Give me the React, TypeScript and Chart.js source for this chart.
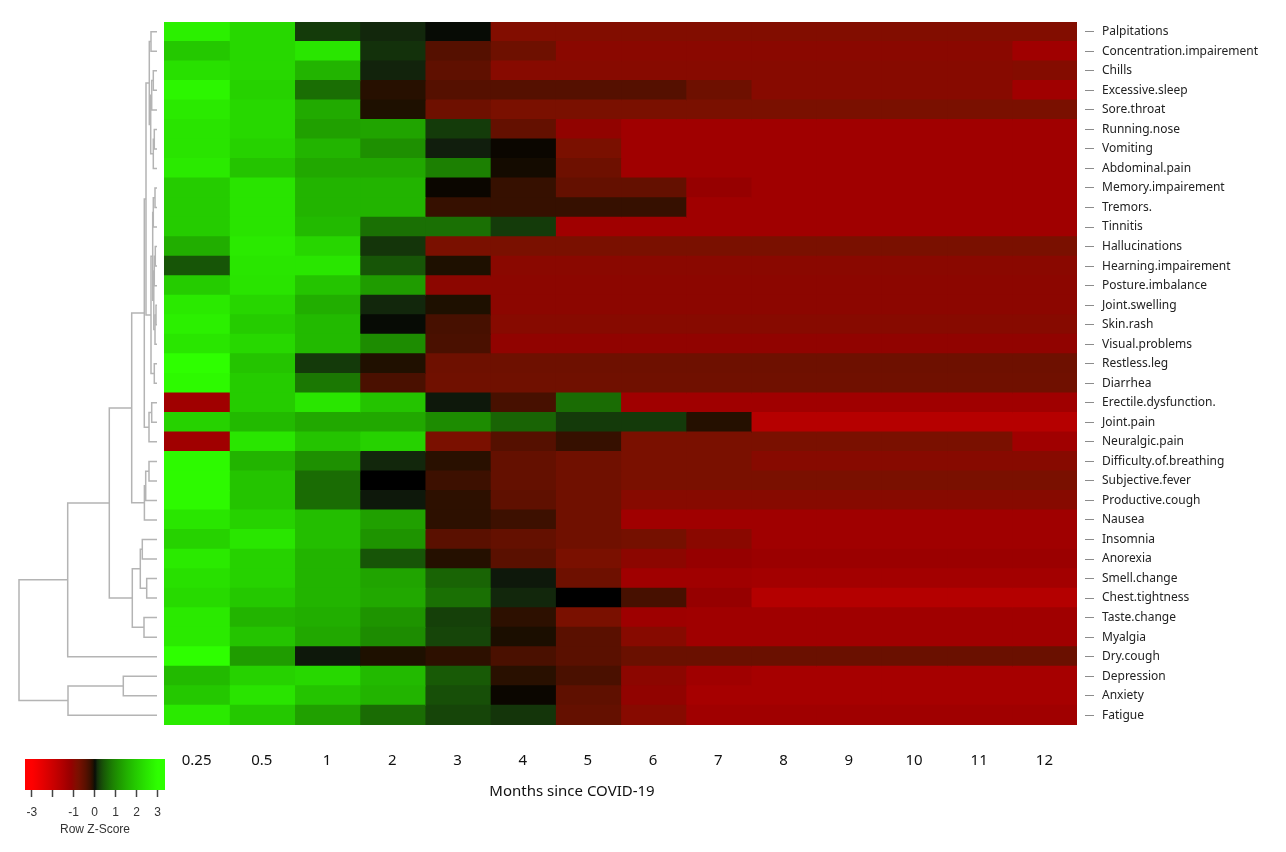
import React, { useEffect, useRef } from "react";
import { Chart, registerables } from "chart.js";

Chart.register(...registerables);

const FONT = "'Noto Sans', 'Open Sans', sans-serif";

const months = ["0.25", "0.5", "1", "2", "3", "4", "5", "6", "7", "8", "9", "10", "11", "12"];
const xTitle = "Months since COVID-19";

const symptoms = [
  "Palpitations", "Concentration.impairement", "Chills", "Excessive.sleep", "Sore.throat",
  "Running.nose", "Vomiting", "Abdominal.pain", "Memory.impairement", "Tremors.",
  "Tinnitis", "Hallucinations", "Hearning.impairement", "Posture.imbalance", "Joint.swelling",
  "Skin.rash", "Visual.problems", "Restless.leg", "Diarrhea", "Erectile.dysfunction.",
  "Joint.pain", "Neuralgic.pain", "Difficulty.of.breathing", "Subjective.fever", "Productive.cough",
  "Nausea", "Insomnia", "Anorexia", "Smell.change", "Chest.tightness",
  "Taste.change", "Myalgia", "Dry.cough", "Depression", "Anxiety", "Fatigue",
];

// Row z-scores, one array per symptom (columns = months)
const palpitations = [2.69, 2.22, 0.21, 0.1, 0.01, -0.88, -0.88, -0.88, -0.88, -0.88, -0.88, -0.88, -0.88, -0.88];
const concentration = [1.93, 2.22, 2.49, 0.15, -0.41, -0.65, -0.98, -0.98, -0.98, -0.98, -0.98, -0.98, -0.98, -1.29];
const chills = [2.37, 2.22, 1.59, 0.08, -0.5, -0.94, -0.94, -0.94, -0.94, -0.94, -0.94, -0.94, -0.94, -0.9];
const excessiveSleep = [2.81, 2.11, 0.65, -0.1, -0.41, -0.41, -0.41, -0.41, -0.65, -0.94, -0.94, -0.94, -0.94, -1.29];
const soreThroat = [2.57, 2.22, 1.44, -0.06, -0.65, -0.79, -0.79, -0.79, -0.79, -0.79, -0.79, -0.79, -0.79, -0.79];
const runningNose = [2.45, 2.22, 1.29, 1.34, 0.21, -0.55, -1.08, -1.29, -1.29, -1.29, -1.29, -1.29, -1.29, -1.29];
const vomiting = [2.45, 2.11, 1.59, 1.06, 0.06, -0.01, -0.79, -1.29, -1.29, -1.29, -1.29, -1.29, -1.29, -1.29];
const abdominalPain = [2.57, 1.86, 1.41, 1.41, 0.86, -0.03, -0.65, -1.29, -1.29, -1.29, -1.29, -1.29, -1.29, -1.29];
const memoryImpairement = [2.0, 2.45, 1.59, 1.59, -0.01, -0.18, -0.55, -0.55, -1.14, -1.29, -1.29, -1.29, -1.29, -1.29];
const tremors = [2.0, 2.45, 1.59, 1.59, -0.18, -0.18, -0.18, -0.18, -1.29, -1.29, -1.29, -1.29, -1.29, -1.29];
const tinnitis = [2.0, 2.45, 1.69, 0.67, 0.67, 0.21, -1.29, -1.29, -1.29, -1.29, -1.29, -1.29, -1.29, -1.29];
const hallucinations = [1.5, 2.57, 2.18, 0.17, -0.79, -0.79, -0.79, -0.79, -0.79, -0.79, -0.79, -0.79, -0.79, -0.79];
const hearningImpairement = [0.41, 2.49, 2.49, 0.41, -0.06, -0.98, -0.98, -0.98, -0.98, -0.98, -0.98, -0.98, -0.98, -0.98];
const postureImbalance = [2.0, 2.45, 1.86, 1.23, -1.01, -1.01, -1.01, -1.01, -1.01, -1.01, -1.01, -1.01, -1.01, -1.01];
const jointSwelling = [2.57, 2.18, 1.5, 0.1, -0.06, -1.01, -1.01, -1.01, -1.01, -1.01, -1.01, -1.01, -1.01, -1.01];
const skinRash = [2.69, 2.0, 1.69, 0.01, -0.29, -0.94, -0.94, -0.94, -0.94, -0.94, -0.94, -0.94, -0.94, -0.94];
const visualProblems = [2.49, 2.22, 1.69, 1.01, -0.32, -1.08, -1.08, -1.08, -1.08, -1.08, -1.08, -1.08, -1.08, -1.08];
const restlessLeg = [3.0, 1.86, 0.2, -0.07, -0.65, -0.65, -0.65, -0.65, -0.65, -0.65, -0.65, -0.65, -0.65, -0.65];
const diarrhea = [2.89, 2.0, 0.76, -0.32, -0.67, -0.67, -0.67, -0.67, -0.67, -0.67, -0.67, -0.67, -0.67, -0.67];
const erectileDysfunction = [-1.29, 2.0, 2.49, 1.86, 0.04, -0.29, 0.63, -1.29, -1.29, -1.29, -1.29, -1.29, -1.29, -1.29];
const jointPain = [2.11, 1.69, 1.41, 1.41, 1.01, 0.55, 0.2, 0.2, -0.09, -1.63, -1.63, -1.63, -1.63, -1.63];
const neuralgicPain = [-1.29, 2.49, 1.86, 2.11, -0.79, -0.41, -0.18, -0.79, -0.79, -0.79, -0.79, -0.79, -0.79, -1.29];
const difficultyBreathing = [2.89, 1.59, 1.06, 0.1, -0.11, -0.55, -0.67, -0.79, -0.79, -0.94, -0.94, -0.94, -0.94, -0.94];
const subjectiveFever = [2.89, 1.86, 0.63, 0.0, -0.22, -0.55, -0.67, -0.79, -0.79, -0.79, -0.79, -0.79, -0.79, -0.79];
const productiveCough = [2.89, 1.86, 0.63, 0.04, -0.13, -0.5, -0.67, -0.94, -0.94, -0.94, -0.94, -0.94, -0.94, -0.94];
const nausea = [2.49, 2.11, 1.76, 1.29, -0.13, -0.22, -0.67, -1.29, -1.29, -1.29, -1.29, -1.29, -1.29, -1.29];
const insomnia = [2.11, 2.49, 1.76, 1.11, -0.45, -0.55, -0.67, -0.73, -0.98, -1.29, -1.29, -1.29, -1.29, -1.29];
const anorexia = [2.57, 2.11, 1.59, 0.41, -0.09, -0.45, -0.79, -1.01, -1.14, -1.21, -1.21, -1.21, -1.21, -1.21];
const smellChange = [2.37, 2.11, 1.59, 1.34, 0.55, 0.04, -0.65, -1.29, -1.29, -1.33, -1.33, -1.33, -1.33, -1.33];
const chestTightness = [2.25, 1.93, 1.59, 1.41, 0.67, 0.1, 0.0, -0.29, -1.14, -1.59, -1.59, -1.59, -1.59, -1.59];
const tasteChange = [2.57, 1.59, 1.5, 1.11, 0.24, -0.13, -0.79, -1.25, -1.29, -1.29, -1.29, -1.29, -1.29, -1.29];
const myalgia = [2.57, 1.86, 1.41, 1.01, 0.28, -0.05, -0.45, -0.94, -1.29, -1.29, -1.29, -1.29, -1.29, -1.29];
const dryCough = [3.0, 1.23, 0.04, -0.06, -0.13, -0.32, -0.45, -0.61, -0.61, -0.61, -0.61, -0.61, -0.61, -0.61];
const depression = [1.69, 2.11, 2.22, 1.69, 0.45, -0.11, -0.32, -1.01, -1.29, -1.37, -1.37, -1.37, -1.37, -1.37];
const anxiety = [1.93, 2.45, 1.86, 1.59, 0.36, -0.01, -0.5, -1.08, -1.37, -1.37, -1.37, -1.37, -1.37, -1.37];
const fatigue = [2.57, 1.93, 1.29, 0.63, 0.28, 0.17, -0.55, -0.94, -1.29, -1.29, -1.29, -1.29, -1.29, -1.29];

const zRows = [
  palpitations, concentration, chills, excessiveSleep, soreThroat, runningNose, vomiting,
  abdominalPain, memoryImpairement, tremors, tinnitis, hallucinations, hearningImpairement,
  postureImbalance, jointSwelling, skinRash, visualProblems, restlessLeg, diarrhea,
  erectileDysfunction, jointPain, neuralgicPain, difficultyBreathing, subjectiveFever,
  productiveCough, nausea, insomnia, anorexia, smellChange, chestTightness, tasteChange,
  myalgia, dryCough, depression, anxiety, fatigue,
];

// Row dendrogram (hclust-style merges: negative = leaf, positive = earlier merge)
const mergeLeft = [-1, -3, 2, -6, 4, 3, 1, -9, 8, -12, 10, -15, 12, 11, 9, -18, 15, 7, -20, 19, 18, -23, 22, 23, 21, -27, -29, 26, -31, 28, 25, 31, -34, 33, 32];
const mergeRight = [-2, -4, -5, -7, -8, 5, 6, -10, -11, -13, -14, -16, -17, 13, 14, -19, 16, 17, -21, -22, 20, -24, -25, -26, 24, -28, -30, 27, -32, 29, 30, -33, -35, -36, 34];
const mergeHeight = [6.0, 3.7, 5.3, 2.7, 3.7, 6.3, 7.7, 2.0, 3.7, 1.7, 2.7, 1.0, 2.0, 3.2, 4.3, 2.7, 6.0, 11.0, 5.3, 8.0, 12.7, 8.0, 11.3, 12.6, 25.3, 14.7, 10.3, 16.7, 13.0, 24.7, 47.7, 89.3, 33.7, 89.0, 138.0];

// Colour key
const keyMin = -3.32;
const keyMax = 3.35;
const keyTicks = [-3, -2, -1, 0, 1, 2, 3];
const keyLabels = ["-3", "", "-1", "0", "1", "2", "3"];
const keyTitle = "Row Z-Score";

function zColor(z: number): string {
  const t = Math.min(1, Math.abs(z) / 3);
  const f = Math.pow(t, 0.55);
  if (z < 0) {
    const r = 255 * f;
    const g = 16 * Math.min(1, r / 30) * Math.max(0, Math.min(1, (150 - r) / 25));
    return `rgb(${Math.round(r)},${Math.round(g)},0)`;
  }
  const g = 255 * f;
  const s = Math.min(1, g / 30);
  const r = 0.18 * g + 14 * s * Math.max(0, 1 - g / 200);
  const b = 16 * s * Math.max(0, 1 - g / 150);
  return `rgb(${Math.round(r)},${Math.round(g)},${Math.round(b)})`;
}

function dendroDatasets() {
  const pos: number[] = [];
  const hts: number[] = [];
  const node = (id: number) =>
    id < 0 ? { y: -id - 1 + 0.5, h: 0 } : { y: pos[id - 1], h: hts[id - 1] };
  const sets: any[] = [];
  for (let k = 0; k < mergeLeft.length; k++) {
    const a = node(mergeLeft[k]);
    const b = node(mergeRight[k]);
    const h = mergeHeight[k];
    sets.push({
      data: [
        { x: a.h, y: a.y },
        { x: h, y: a.y },
        { x: h, y: b.y },
        { x: b.h, y: b.y },
      ],
      showLine: true,
      borderColor: "#b4b4b4",
      borderWidth: 1.5,
      pointRadius: 0,
      tension: 0,
      fill: false,
      clip: false,
    });
    pos[k] = (a.y + b.y) / 2;
    hts[k] = h;
  }
  return sets;
}

const xTitlePlugin = {
  id: "xTitleFree",
  afterDraw(chart: any) {
    const c = chart.ctx;
    const area = chart.chartArea;
    c.save();
    c.font = `15px ${FONT}`;
    c.fillStyle = "#111";
    c.textAlign = "center";
    c.textBaseline = "middle";
    c.fillText(xTitle, area.left + 408, area.bottom + 67);
    c.restore();
  },
};

export default function App() {
  const mainRef = useRef<HTMLCanvasElement>(null);
  const dendroRef = useRef<HTMLCanvasElement>(null);
  const keyRef = useRef<HTMLCanvasElement>(null);

  useEffect(() => {
    const charts: Chart[] = [];

    const datasets = months.map((m, j) => ({
      label: m,
      data: symptoms.map(() => [j, j + 1]),
      backgroundColor: symptoms.map((_, i) => zColor(zRows[i][j])),
      borderWidth: 0,
      inflateAmount: 0.6,
      barPercentage: 1,
      categoryPercentage: 1,
      grouped: false,
    }));

    charts.push(
      new Chart(mainRef.current as HTMLCanvasElement, {
        type: "bar",
        data: { labels: symptoms, datasets: datasets as any },
        options: {
          responsive: false,
          animation: false,
          indexAxis: "y",
          layout: { padding: { left: 164, top: 22, right: 0, bottom: 0 } },
          plugins: { legend: { display: false }, tooltip: { enabled: false } },
          scales: {
            x: {
              type: "linear",
              position: "bottom",
              min: 0,
              max: months.length,
              grid: { display: false },
              border: { display: false },
              afterBuildTicks: (s: any) => {
                s.ticks = months.map((_, j) => ({ value: j + 0.5 }));
              },
              afterFit: (s: any) => {
                s.height = 127;
              },
              ticks: {
                autoSkip: false,
                maxRotation: 0,
                padding: 19,
                color: "#111",
                font: { size: 15, family: FONT },
                callback: (_v: any, i: number) => months[i],
              },
            },
            y: {
              type: "category",
              position: "right",
              offset: true,
              border: { display: false },
              grid: {
                offset: false,
                drawOnChartArea: false,
                drawTicks: true,
                tickLength: 18,
                tickColor: "#8c8c8c",
                tickWidth: 1,
                tickBorderDash: [0, 8, 9, 40],
              },
              afterFit: (s: any) => {
                s.width = 209;
              },
              ticks: {
                autoSkip: false,
                padding: 7,
                color: "#222",
                font: { size: 12, family: FONT },
              },
            },
          },
        } as any,
        plugins: [xTitlePlugin],
      })
    );

    charts.push(
      new Chart(dendroRef.current as HTMLCanvasElement, {
        type: "scatter",
        data: { datasets: dendroDatasets() },
        options: {
          responsive: false,
          animation: false,
          layout: { padding: { left: 19, right: 7, top: 22, bottom: 127 } },
          plugins: { legend: { display: false }, tooltip: { enabled: false } },
          scales: {
            x: { type: "linear", min: 0, max: 138, reverse: true, display: false },
            y: { type: "linear", min: 0, max: 36, reverse: true, display: false },
          },
        } as any,
      })
    );

    charts.push(
      new Chart(keyRef.current as HTMLCanvasElement, {
        type: "bar",
        data: {
          labels: ["key"],
          datasets: [
            {
              data: [[keyMin, keyMax]] as any,
              borderWidth: 0,
              barPercentage: 1,
              categoryPercentage: 1,
              backgroundColor: (c: any) => {
                const chart = c.chart;
                const xs = chart.scales.x;
                if (!xs || !chart.chartArea) return "#000";
                const x0 = xs.getPixelForValue(keyMin);
                const x1 = xs.getPixelForValue(keyMax);
                const g = chart.ctx.createLinearGradient(x0, 0, x1, 0);
                const steps = 60;
                for (let s = 0; s <= steps; s++) {
                  const z = keyMin + ((keyMax - keyMin) * s) / steps;
                  g.addColorStop(s / steps, zColor(z));
                }
                return g;
              },
            },
          ],
        },
        options: {
          responsive: false,
          animation: false,
          indexAxis: "y",
          layout: { padding: { left: 25, right: 20, top: 19, bottom: 0 } },
          plugins: { legend: { display: false }, tooltip: { enabled: false } },
          scales: {
            x: {
              type: "linear",
              min: keyMin,
              max: keyMax,
              border: { display: false },
              grid: {
                drawOnChartArea: false,
                drawTicks: true,
                tickLength: 7,
                tickColor: "#444",
                tickWidth: 1.5,
              },
              afterBuildTicks: (s: any) => {
                s.ticks = keyTicks.map((v) => ({ value: v }));
              },
              afterFit: (s: any) => {
                s.height = 50;
              },
              ticks: {
                autoSkip: false,
                maxRotation: 0,
                padding: 8,
                color: "#333",
                font: { size: 12, family: "'Liberation Sans', Arial, sans-serif" },
                callback: (_v: any, i: number) => keyLabels[i],
              },
              title: {
                display: true,
                text: keyTitle,
                color: "#333",
                font: { size: 12, family: "'Liberation Sans', Arial, sans-serif" },
                padding: { top: 0, bottom: 3 },
              },
            },
            y: { display: false },
          },
        } as any,
      })
    );

    return () => charts.forEach((c) => c.destroy());
  }, []);

  return (
    <div style={{ position: "absolute", left: 0, top: 0, width: 1286, height: 852, background: "#fff" }}>
      <canvas ref={mainRef} width={1286} height={852} style={{ position: "absolute", left: 0, top: 0 }} />
      <canvas ref={dendroRef} width={164} height={852} style={{ position: "absolute", left: 0, top: 0 }} />
      <canvas ref={keyRef} width={185} height={100} style={{ position: "absolute", left: 0, top: 740 }} />
    </div>
  );
}
